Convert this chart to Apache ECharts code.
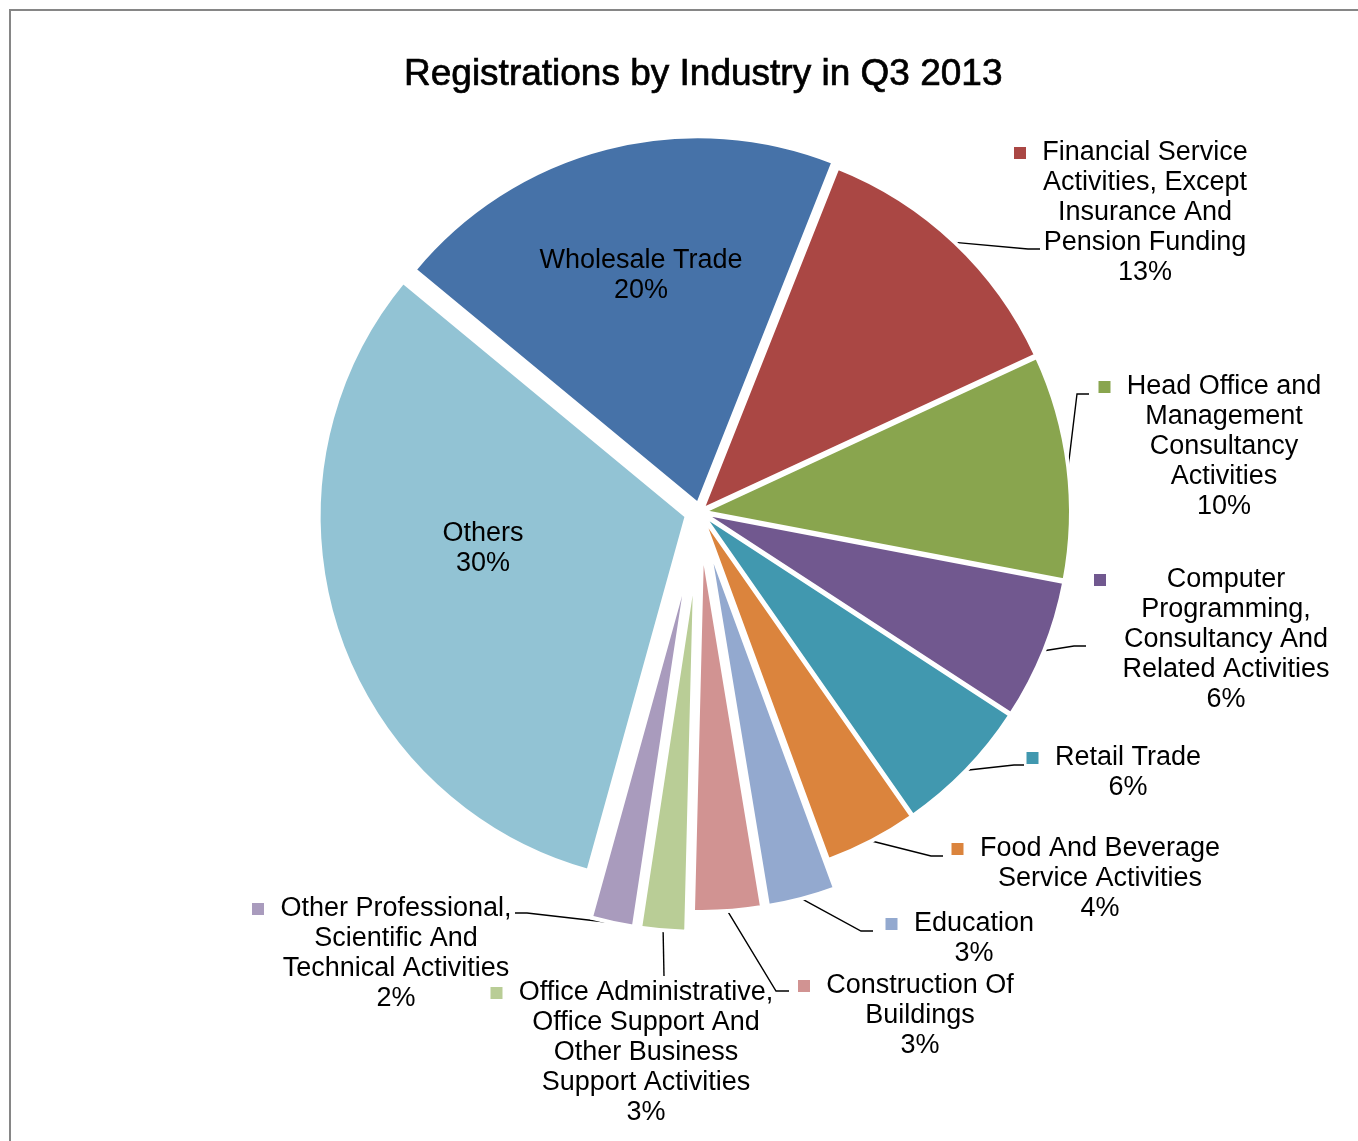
<!DOCTYPE html>
<html>
<head>
<meta charset="utf-8">
<script src="https://cdn.jsdelivr.net/npm/echarts@6/dist/echarts.min.js"></script>
<style>
html,body{margin:0;padding:0;background:#fff;}
#chart{width:1358px;height:1141px;}
</style>
</head>
<body>
<div id="chart"></div>
<script>
// ---------------- data ----------------
const categories = [
  'Wholesale Trade',
  'Financial Service Activities, Except Insurance And Pension Funding',
  'Head Office and Management Consultancy Activities',
  'Computer Programming, Consultancy And Related Activities',
  'Retail Trade',
  'Food And Beverage Service Activities',
  'Education',
  'Construction Of Buildings',
  'Office Administrative, Office Support And Other Business Support Activities',
  'Other Professional, Scientific And Technical Activities',
  'Others'
];
// category names as they are wrapped in the chart's labels
const labelTextLines = [
  ['Wholesale Trade'],
  ['Financial Service', 'Activities, Except', 'Insurance And', 'Pension Funding'],
  ['Head Office and', 'Management', 'Consultancy', 'Activities'],
  ['Computer', 'Programming,', 'Consultancy And', 'Related Activities'],
  ['Retail Trade'],
  ['Food And Beverage', 'Service Activities'],
  ['Education'],
  ['Construction Of', 'Buildings'],
  ['Office Administrative,', 'Office Support And', 'Other Business', 'Support Activities'],
  ['Other Professional,', 'Scientific And', 'Technical Activities'],
  ['Others']
];
// share of registrations (%)
const shares = [20.0, 12.1, 9.9, 6.2, 6.1, 4.1, 3.0, 3.0, 2.0, 1.9, 31.7];
// percentage labels as printed on the chart
const pctLabels = ['20%', '13%', '10%', '6%', '6%', '4%', '3%', '3%', '3%', '2%', '30%'];

// ---------------- style / layout ----------------
const colors = ['#4672A8', '#AA4744', '#89A54E', '#71588F', '#4198AF', '#DB843D',
                '#93A9CF', '#D19392', '#B9CD96', '#A99BBD', '#92C3D4'];
const explode = [8, 3, 3, 3, 3, 3, 32, 32, 52, 52, 14];   // px each slice is pulled out
const CENTER = [700, 512];
const R = 368;
const BORDER = 4;
const START_ANGLE = 140.4;
const FONT = 'Liberation Sans';
const FS = 27, LH = 30, TEXT_DY = 2;
const KEY = 12, KEY_GAP = 15, KEY_SPACE = KEY + KEY_GAP;

// label placement (text-block centre x, first line centre y, leader end point)
const labelPos = [
  { inside: true, cx: 641, y1: 259 },
  { cx: 1145, y1: 151, end: [1040, 249], stub: 12 },
  { cx: 1224, y1: 385, end: [1089, 394], stub: 12 },
  { cx: 1226, y1: 578, end: [1086, 646], stub: 12 },
  { cx: 1128, y1: 756, end: [1024, 765], stub: 10 },
  { cx: 1100, y1: 847, end: [943, 856], stub: 12 },
  { cx: 974,  y1: 922, end: [873, 931], stub: 12 },
  { cx: 920,  y1: 984, end: [789, 991], stub: 13 },
  { cx: 646,  y1: 991, end: [664, 976], stub: 0 },
  { cx: 396,  y1: 907, end: [515, 913], stub: -12 },
  { inside: true, cx: 483, y1: 532 }
];

const ctx = document.createElement('canvas').getContext('2d');
ctx.font = FS + 'px "' + FONT + '"';
const textW = labelTextLines.map(function (ls, i) {
  return Math.ceil(Math.max.apply(null, ls.concat([pctLabels[i]]).map(function (s) {
    return ctx.measureText(s).width;
  }))) + 2;
});
const TITLE = 'Registrations by Industry in Q3 2013';
const TITLE_FS = 37;
ctx.font = TITLE_FS + 'px "' + FONT + '"';
const titleW = ctx.measureText(TITLE).width;

// ---------------- series ----------------
const labelSeriesData = categories.map(function (name, i) {
  const lp = labelPos[i];
  let label;
  if (lp.inside) {
    label = {
      show: true, position: 'inside',
      formatter: labelTextLines[i].concat([pctLabels[i]]).join('\n'),
      color: '#000', fontFamily: FONT, fontSize: FS, lineHeight: LH
    };
  } else {
    const lines = labelTextLines[i].concat([pctLabels[i]]);
    const fmt = lines.map(function (s, j) {
      return (j === 0 ? '{k|}{g|}' : '{s|}') + '{t|' + s + '}';
    }).join('\n');
    label = {
      show: true, position: 'outside',
      formatter: fmt,
      width: textW[i] + KEY_SPACE,
      color: '#000', fontFamily: FONT, fontSize: FS, lineHeight: LH,
      rich: {
        k: { width: KEY, height: KEY, backgroundColor: colors[i], align: 'left', lineHeight: LH },
        g: { width: KEY_GAP, align: 'left', lineHeight: LH },
        s: { width: KEY_SPACE, align: 'left', lineHeight: LH },
        t: { width: textW[i], align: 'center', color: '#000', fontFamily: FONT, fontSize: FS, lineHeight: LH }
      }
    };
  }
  return {
    name: name, value: shares[i],
    itemStyle: { color: 'rgba(0,0,0,0)', borderWidth: 0 },
    label: label,
    labelLine: { show: !lp.inside, lineStyle: { color: '#000', width: 1.4 } }
  };
});

const series = [{
  type: 'pie',
  name: 'labels',
  center: CENTER, radius: R,
  startAngle: START_ANGLE, clockwise: true,
  avoidLabelOverlap: false,
  silent: true,
  emphasis: { disabled: true },
  data: labelSeriesData,
  labelLayout: function (p) {
    const i = p.dataIndex;
    const lp = labelPos[i];
    if (lp.inside) {
      return { x: lp.cx, y: lp.y1 - LH / 2 + TEXT_DY, align: 'center', verticalAlign: 'top' };
    }
    const out = {
      x: lp.cx - textW[i] / 2 - KEY_SPACE,
      y: lp.y1 - LH / 2 + TEXT_DY,
      align: 'left', verticalAlign: 'top',
      width: textW[i] + KEY_SPACE
    };
    if (p.labelLinePoints && p.labelLinePoints.length) {
      const p0 = p.labelLinePoints[0];
      const k = (R + explode[i]) / R;
      const s = [CENTER[0] + (p0[0] - CENTER[0]) * k, CENTER[1] + (p0[1] - CENTER[1]) * k];
      const pts = [s];
      if (lp.stub) pts.push([lp.end[0] - lp.stub, lp.end[1]]);
      pts.push(lp.end);
      out.labelLinePoints = pts;
    }
    return out;
  }
}];

// one pie per explosion distance, drawing only the slices pulled out by that amount
const offsets = explode.filter(function (v, i, a) { return a.indexOf(v) === i; });
offsets.forEach(function (off) {
  series.push({
    type: 'pie',
    center: CENTER, radius: R,
    startAngle: START_ANGLE, clockwise: true,
    selectedMode: 'multiple',
    selectedOffset: off,
    silent: true,
    emphasis: { disabled: true },
    label: { show: false }, labelLine: { show: false },
    data: categories.map(function (name, i) {
      const mine = explode[i] === off;
      const st = mine
        ? { color: colors[i], borderColor: '#fff', borderWidth: BORDER }
        : { color: 'rgba(0,0,0,0)', borderWidth: 0 };
      return {
        name: name, value: shares[i], selected: mine,
        itemStyle: st, select: { itemStyle: st }
      };
    })
  });
});

const chart = echarts.init(document.getElementById('chart'), null, { renderer: 'canvas' });
chart.setOption({
  backgroundColor: '#fff',
  animation: false,
  title: {
    text: TITLE,
    left: Math.round(703 - titleW / 2) - 5,
    top: 51,
    textStyle: {
      fontFamily: FONT, fontSize: TITLE_FS, fontWeight: 'normal', color: '#000',
      textBorderColor: '#000', textBorderWidth: 0.7
    }
  },
  graphic: [{
    type: 'rect', silent: true, z: -10,
    shape: { x: 10, y: 10, width: 1400, height: 1200 },
    style: { fill: 'none', stroke: '#868686', lineWidth: 2 }
  }],
  series: series
});
</script>
</body>
</html>
